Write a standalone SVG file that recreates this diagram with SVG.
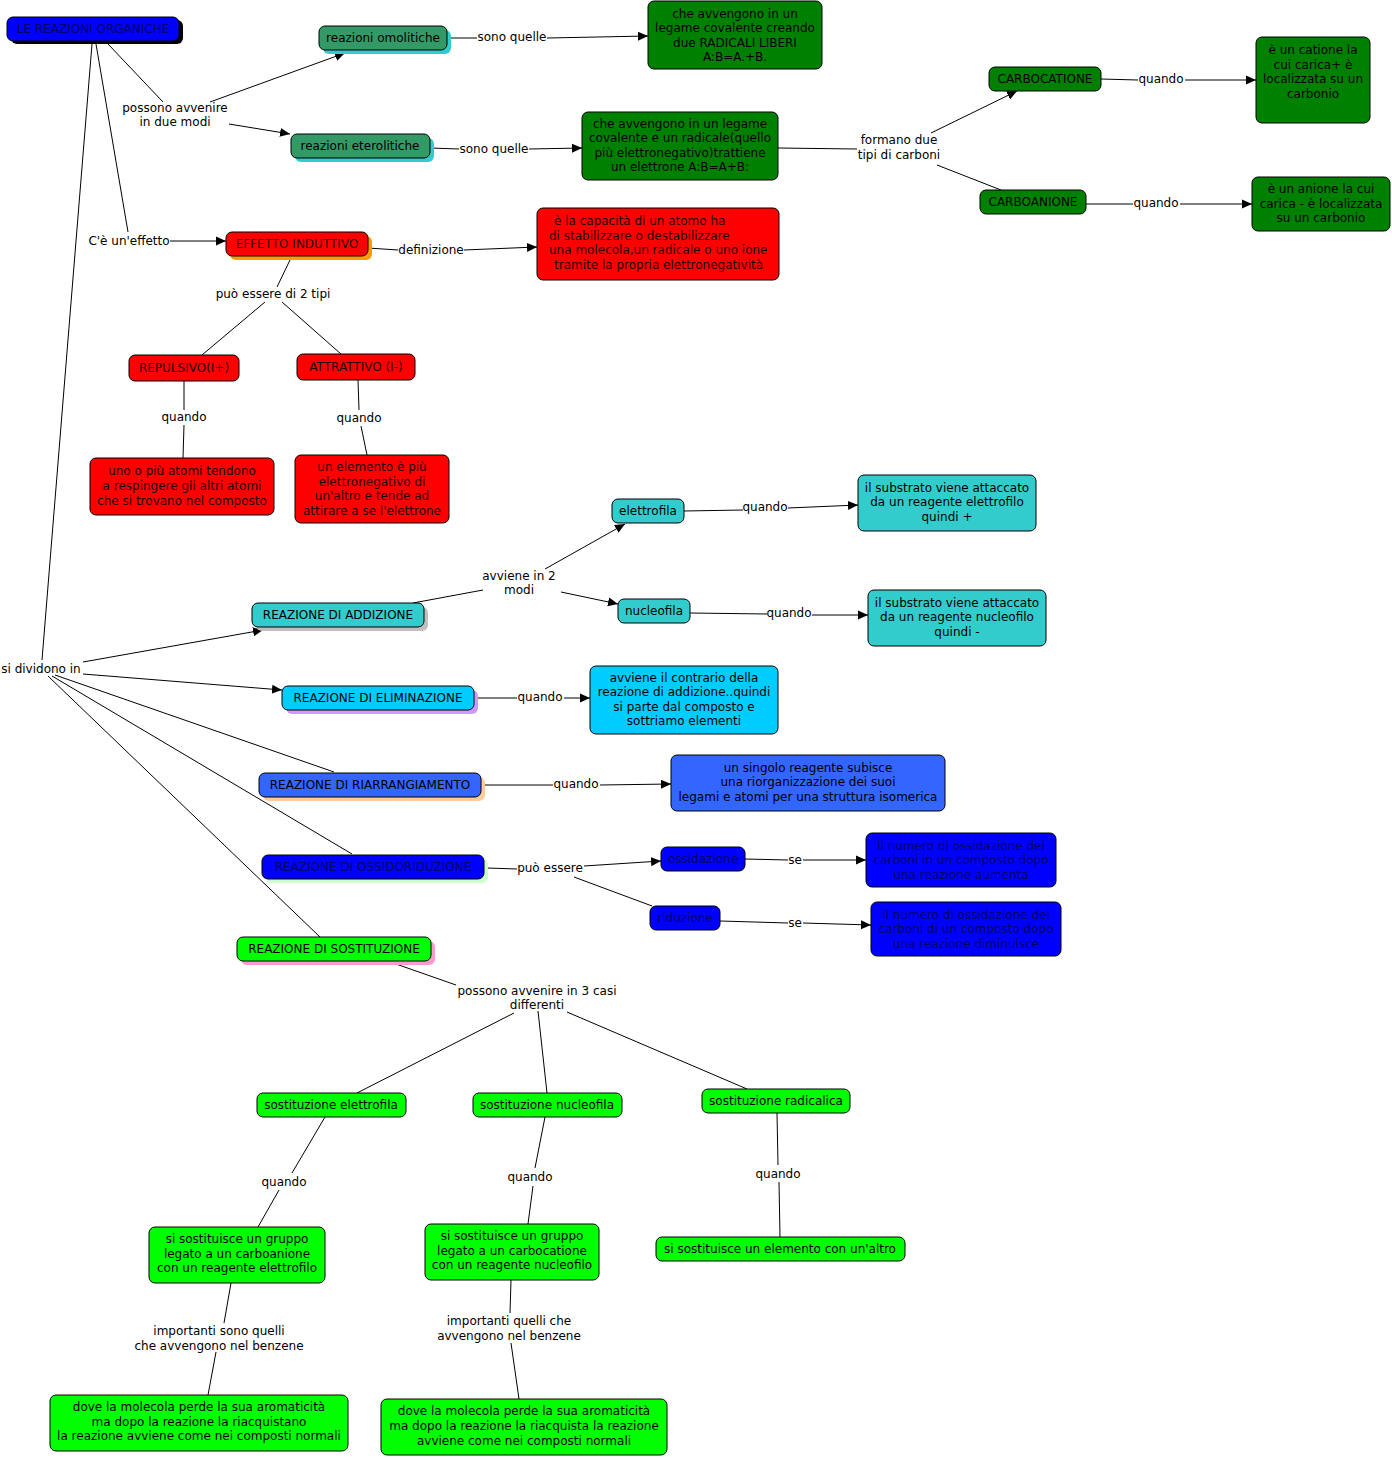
<svg xmlns="http://www.w3.org/2000/svg" width="1392" height="1458" viewBox="0 0 1392 1458">
<defs>
<marker id="ah" viewBox="0 0 10 10" refX="10" refY="5" markerWidth="10" markerHeight="10" markerUnits="userSpaceOnUse" orient="auto"><path d="M0,0.5 L10,5 L0,9.5 z" fill="#000"/></marker>
<style>
text{font-family:"DejaVu Sans","Verdana",sans-serif;font-size:12px;fill:#000;}
.c{text-anchor:middle;}
.n{stroke:#000;stroke-width:1;}
.sh{stroke:none;}
.e line,.e polyline{stroke:#000;stroke-width:1;fill:none;}
.a{marker-end:url(#ah);}
.dg{fill:#008000;}
.sg{fill:#339966;}
.rd{fill:#ff0000;}
.tq{fill:#33cccc;}
.sk{fill:#00ccff;}
.rb{fill:#3366ff;}
.bl{fill:#0000ff;}
.lg{fill:#00ff00;}
.tb{fill:#000066;}
.tr{fill:#220000;}
</style>
</defs>
<rect width="1392" height="1458" fill="#fff"/>

<g id="connectors" class="e">
<line x1="108" y1="44" x2="163" y2="102"/>
<line x1="210" y1="102" x2="345" y2="53" class="a"/>
<line x1="229" y1="124" x2="290" y2="134" class="a"/>
<line x1="96" y1="44" x2="128" y2="232"/>
<line x1="170" y1="241" x2="226" y2="241" class="a"/>
<line x1="92" y1="44" x2="42" y2="660"/>
<line x1="447" y1="38" x2="477" y2="38"/>
<line x1="547" y1="38" x2="648" y2="36" class="a"/>
<line x1="430" y1="148" x2="459" y2="149"/>
<line x1="529" y1="149" x2="582" y2="148" class="a"/>
<line x1="778" y1="148" x2="857" y2="149"/>
<line x1="931" y1="133" x2="1017" y2="91" class="a"/>
<line x1="937" y1="165" x2="1001" y2="190"/>
<line x1="1101" y1="79" x2="1138" y2="80"/>
<line x1="1185" y1="80" x2="1256" y2="80" class="a"/>
<line x1="1086" y1="204" x2="1133" y2="204"/>
<line x1="1180" y1="204" x2="1252" y2="204" class="a"/>
<line x1="368" y1="248" x2="398" y2="250"/>
<line x1="464" y1="250" x2="537" y2="247" class="a"/>
<line x1="290" y1="260" x2="277" y2="287"/>
<line x1="265" y1="302" x2="202" y2="355"/>
<line x1="282" y1="302" x2="341" y2="354"/>
<line x1="184" y1="381" x2="184" y2="410"/>
<line x1="184" y1="425" x2="183" y2="458"/>
<line x1="358" y1="380" x2="359" y2="410"/>
<line x1="361" y1="426" x2="367" y2="455"/>
<line x1="83" y1="662" x2="263" y2="630" class="a"/>
<line x1="83" y1="674" x2="282" y2="690" class="a"/>
<line x1="55" y1="675" x2="334" y2="772"/>
<line x1="52" y1="676" x2="352" y2="854"/>
<line x1="48" y1="676" x2="320" y2="937"/>
<line x1="413" y1="603" x2="483" y2="590"/>
<line x1="545" y1="569" x2="625" y2="524" class="a"/>
<line x1="561" y1="592" x2="618" y2="604" class="a"/>
<line x1="684" y1="511" x2="743" y2="510"/>
<line x1="788" y1="508" x2="858" y2="505" class="a"/>
<line x1="690" y1="613" x2="767" y2="614"/>
<line x1="812" y1="615" x2="868" y2="615" class="a"/>
<line x1="474" y1="698" x2="517" y2="698"/>
<line x1="564" y1="698" x2="590" y2="698" class="a"/>
<line x1="484" y1="785" x2="553" y2="785"/>
<line x1="600" y1="785" x2="671" y2="784" class="a"/>
<line x1="487" y1="868" x2="517" y2="869"/>
<line x1="584" y1="866" x2="661" y2="861" class="a"/>
<line x1="574" y1="877" x2="652" y2="906"/>
<line x1="745" y1="859" x2="788" y2="860"/>
<line x1="803" y1="860" x2="866" y2="860" class="a"/>
<line x1="720" y1="921" x2="788" y2="923"/>
<line x1="803" y1="923" x2="871" y2="925" class="a"/>
<line x1="396" y1="964" x2="456" y2="985"/>
<line x1="514" y1="1013" x2="357" y2="1093"/>
<line x1="538" y1="1011" x2="547" y2="1093"/>
<line x1="567" y1="1012" x2="747" y2="1089"/>
<line x1="325" y1="1117" x2="292" y2="1173"/>
<line x1="279" y1="1190" x2="258" y2="1227"/>
<line x1="545" y1="1117" x2="535" y2="1168"/>
<line x1="533" y1="1186" x2="528" y2="1224"/>
<line x1="777" y1="1113" x2="778" y2="1165"/>
<line x1="779" y1="1182" x2="780" y2="1237"/>
<line x1="231" y1="1283" x2="224" y2="1323"/>
<line x1="216" y1="1352" x2="208" y2="1395"/>
<line x1="511" y1="1280" x2="510" y2="1313"/>
<line x1="511" y1="1343" x2="519" y2="1399"/>
</g>

<g id="labels">
<text class="c" x="175" y="112">possono avvenire</text>
<text class="c" x="175" y="126">in due modi</text>
<text class="c" x="512" y="41">sono quelle</text>
<text class="c" x="494" y="153">sono quelle</text>
<text class="c" x="899" y="144">formano due</text>
<text class="c" x="899" y="159">tipi di carboni</text>
<text class="c" x="1161" y="83">quando</text>
<text class="c" x="1156" y="207">quando</text>
<text class="c" x="129" y="245">C'è un'effetto</text>
<text class="c" x="431" y="254">definizione</text>
<text class="c" x="273" y="298">può essere di 2 tipi</text>
<text class="c" x="184" y="421">quando</text>
<text class="c" x="359" y="422">quando</text>
<text class="c" x="519" y="580">avviene in 2</text>
<text class="c" x="519" y="594">modi</text>
<text class="c" x="765" y="511">quando</text>
<text class="c" x="789" y="617">quando</text>
<text class="c" x="41" y="673">si dividono in</text>
<text class="c" x="540" y="701">quando</text>
<text class="c" x="576" y="788">quando</text>
<text class="c" x="550" y="872">può essere</text>
<text class="c" x="795" y="864">se</text>
<text class="c" x="795" y="927">se</text>
<text class="c" x="537" y="995">possono avvenire in 3 casi</text>
<text class="c" x="537" y="1009">differenti</text>
<text class="c" x="284" y="1186">quando</text>
<text class="c" x="530" y="1181">quando</text>
<text class="c" x="778" y="1178">quando</text>
<text class="c" x="219" y="1335">importanti sono quelli</text>
<text class="c" x="219" y="1350">che avvengono nel benzene</text>
<text class="c" x="509" y="1325">importanti quelli che</text>
<text class="c" x="509" y="1340">avvengono nel benzene</text>
</g>

<g id="n-root">
<rect class="sh" x="11" y="20" width="172" height="24" rx="6" fill="#000"/>
<rect class="n bl" x="7" y="17" width="172" height="24" rx="6"/>
<text class="c tb" x="93" y="33">LE REAZIONI ORGANICHE</text>
</g>
<g id="n-omolitiche">
<rect class="sh" x="323" y="30" width="128" height="24" rx="6" fill="#33cccc"/>
<rect class="n sg" x="319" y="26" width="128" height="24" rx="6"/>
<text class="c" x="383" y="42">reazioni omolitiche</text>
</g>
<g id="n-eterolitiche">
<rect class="sh" x="295" y="138" width="139" height="24" rx="6" fill="#33cccc"/>
<rect class="n sg" x="291" y="134" width="139" height="24" rx="6"/>
<text class="c" x="360" y="150">reazioni eterolitiche</text>
</g>
<g id="n-omo-def">
<rect class="n dg" x="648" y="1" width="174" height="68" rx="6"/>
<text class="c" x="735" y="18">che avvengono in un</text>
<text class="c" x="735" y="32">legame covalente creando</text>
<text class="c" x="735" y="47">due RADICALI LIBERI</text>
<text class="c" x="735" y="61">A:B=A.+B.</text>
</g>
<g id="n-etero-def">
<rect class="n dg" x="582" y="112" width="196" height="68" rx="6"/>
<text class="c" x="680" y="128">che avvengono in un legame </text>
<text class="c" x="680" y="142">covalente e un radicale(quello</text>
<text class="c" x="680" y="157">più elettronegativo)trattiene </text>
<text class="c" x="680" y="171">un elettrone  A:B=A+B:</text>
</g>
<g id="n-carbocatione">
<rect class="n dg" x="989" y="67" width="112" height="24" rx="6"/>
<text class="c" x="1045" y="83">CARBOCATIONE</text>
</g>
<g id="n-carboanione">
<rect class="n dg" x="980" y="190" width="106" height="24" rx="6"/>
<text class="c" x="1033" y="206">CARBOANIONE</text>
</g>
<g id="n-catione-def">
<rect class="n dg" x="1256" y="37" width="114" height="86" rx="6"/>
<text class="c" x="1313" y="54">è un catione la</text>
<text class="c" x="1313" y="69">cui carica+ è</text>
<text class="c" x="1313" y="83">localizzata su un</text>
<text class="c" x="1313" y="98">carbonio</text>
</g>
<g id="n-anione-def">
<rect class="n dg" x="1252" y="177" width="138" height="54" rx="6"/>
<text class="c" x="1321" y="193">è un anione la cui</text>
<text class="c" x="1321" y="208">carica - è localizzata</text>
<text class="c" x="1321" y="222">su un carbonio</text>
</g>
<g id="n-effetto">
<rect class="sh" x="230" y="236" width="142" height="24" rx="6" fill="#ff9900"/>
<rect class="n rd" x="226" y="232" width="142" height="24" rx="6"/>
<text class="c tr" x="297" y="248">EFFETTO INDUTTIVO</text>
</g>
<g id="n-effetto-def">
<rect class="n rd" x="537" y="208" width="242" height="72" rx="6"/>
<text class="tr" x="554" y="225">è la capacità di un atomo ha</text>
<text class="tr" x="549" y="240">di stabilizzare o destabilizzare</text>
<text class="tr" x="549" y="254">una molecola,un radicale o uno ione</text>
<text class="tr" x="554" y="269">tramite la propria elettronegatività</text>
</g>
<g id="n-repulsivo">
<rect class="n rd" x="129" y="355" width="110" height="26" rx="6"/>
<text class="c tr" x="184" y="372">REPULSIVO(I+)</text>
</g>
<g id="n-attrattivo">
<rect class="n rd" x="297" y="354" width="118" height="26" rx="6"/>
<text class="c tr" x="356" y="371">ATTRATTIVO (I-)</text>
</g>
<g id="n-repulsivo-def">
<rect class="n rd" x="90" y="458" width="184" height="57" rx="6"/>
<text class="c tr" x="182" y="475">uno o più atomi tendono</text>
<text class="c tr" x="182" y="490">a respingere gli altri atomi</text>
<text class="c tr" x="182" y="505">che si trovano nel composto</text>
</g>
<g id="n-attrattivo-def">
<rect class="n rd" x="295" y="455" width="154" height="68" rx="6"/>
<text class="c tr" x="372" y="471">un elemento è più</text>
<text class="c tr" x="372" y="486">elettronegativo di</text>
<text class="c tr" x="372" y="500">un'altro e tende ad</text>
<text class="c tr" x="372" y="515">attirare a se l'elettrone</text>
</g>
<g id="n-addizione">
<rect class="sh" x="256" y="607" width="172" height="24" rx="6" fill="#c0c0c0"/>
<rect class="n tq" x="252" y="603" width="172" height="24" rx="6"/>
<text class="c" x="338" y="619">REAZIONE DI ADDIZIONE</text>
</g>
<g id="n-elettrofila">
<rect class="n tq" x="612" y="499" width="72" height="24" rx="6"/>
<text class="c" x="648" y="515">elettrofila</text>
</g>
<g id="n-nucleofila">
<rect class="n tq" x="618" y="599" width="72" height="24" rx="6"/>
<text class="c" x="654" y="615">nucleofila</text>
</g>
<g id="n-elettrofila-def">
<rect class="n tq" x="858" y="475" width="178" height="56" rx="6"/>
<text class="c" x="947" y="492">il substrato viene attaccato</text>
<text class="c" x="947" y="506">da un reagente elettrofilo</text>
<text class="c" x="947" y="521">quindi +</text>
</g>
<g id="n-nucleofila-def">
<rect class="n tq" x="868" y="590" width="178" height="56" rx="6"/>
<text class="c" x="957" y="607">il substrato viene attaccato</text>
<text class="c" x="957" y="621">da un reagente nucleofilo</text>
<text class="c" x="957" y="636">quindi -</text>
</g>
<g id="n-eliminazione">
<rect class="sh" x="286" y="690" width="192" height="24" rx="6" fill="#cc99ff"/>
<rect class="n sk" x="282" y="686" width="192" height="24" rx="6"/>
<text class="c" x="378" y="702">REAZIONE DI ELIMINAZIONE</text>
</g>
<g id="n-eliminazione-def">
<rect class="n sk" x="590" y="666" width="188" height="68" rx="6"/>
<text class="c" x="684" y="682">avviene il contrario della</text>
<text class="c" x="684" y="696">reazione di addizione..quindi</text>
<text class="c" x="684" y="711">si parte dal composto e</text>
<text class="c" x="684" y="725">sottriamo elementi</text>
</g>
<g id="n-riarrangiamento">
<rect class="sh" x="263" y="777" width="222" height="24" rx="6" fill="#ffcc99"/>
<rect class="n rb" x="259" y="773" width="222" height="24" rx="6"/>
<text class="c" x="370" y="789">REAZIONE DI RIARRANGIAMENTO</text>
</g>
<g id="n-riarrangiamento-def">
<rect class="n rb" x="671" y="755" width="274" height="56" rx="6"/>
<text class="c" x="808" y="772">un singolo reagente subisce</text>
<text class="c" x="808" y="786">una riorganizzazione dei suoi</text>
<text class="c" x="808" y="801">legami e atomi per una struttura isomerica</text>
</g>
<g id="n-ossidoriduzione">
<rect class="sh" x="266" y="859" width="222" height="24" rx="6" fill="#ccffcc"/>
<rect class="n bl" x="262" y="855" width="222" height="24" rx="6"/>
<text class="c tb" x="373" y="871">REAZIONE DI OSSIDORIDUZIONE</text>
</g>
<g id="n-ossidazione">
<rect class="n bl" x="661" y="847" width="84" height="24" rx="6"/>
<text class="c tb" x="703" y="863">ossidazione</text>
</g>
<g id="n-riduzione">
<rect class="n bl" x="650" y="906" width="70" height="24" rx="6"/>
<text class="c tb" x="685" y="922">riduzione</text>
</g>
<g id="n-ossidazione-def">
<rect class="n bl" x="866" y="833" width="190" height="54" rx="6"/>
<text class="c tb" x="961" y="850">il numero di ossidazione dei</text>
<text class="c tb" x="961" y="864">carboni in un composto dopo</text>
<text class="c tb" x="961" y="879">una reazione aumenta</text>
</g>
<g id="n-riduzione-def">
<rect class="n bl" x="871" y="902" width="190" height="54" rx="6"/>
<text class="c tb" x="966" y="919">il numero di ossidazione dei</text>
<text class="c tb" x="966" y="933">carboni di un composto dopo</text>
<text class="c tb" x="966" y="948">una reazione diminuisce</text>
</g>
<g id="n-sostituzione">
<rect class="sh" x="241" y="941" width="194" height="24" rx="6" fill="#ff99cc"/>
<rect class="n lg" x="237" y="937" width="194" height="24" rx="6"/>
<text class="c" x="334" y="953">REAZIONE DI SOSTITUZIONE</text>
</g>
<g id="n-sost-elettrofila">
<rect class="n lg" x="257" y="1093" width="149" height="24" rx="6"/>
<text class="c" x="331" y="1109">sostituzione elettrofila</text>
</g>
<g id="n-sost-nucleofila">
<rect class="n lg" x="473" y="1093" width="149" height="24" rx="6"/>
<text class="c" x="547" y="1109">sostituzione nucleofila</text>
</g>
<g id="n-sost-radicalica">
<rect class="n lg" x="702" y="1089" width="148" height="24" rx="6"/>
<text class="c" x="776" y="1105">sostituzione radicalica</text>
</g>
<g id="n-sost-elettrofila-def">
<rect class="n lg" x="149" y="1227" width="176" height="56" rx="6"/>
<text class="c" x="237" y="1243">si sostituisce un gruppo</text>
<text class="c" x="237" y="1258">legato a un carboanione</text>
<text class="c" x="237" y="1272">con un reagente elettrofilo</text>
</g>
<g id="n-sost-nucleofila-def">
<rect class="n lg" x="425" y="1224" width="174" height="56" rx="6"/>
<text class="c" x="512" y="1240">si sostituisce un gruppo</text>
<text class="c" x="512" y="1255">legato a un carbocatione</text>
<text class="c" x="512" y="1269">con un reagente nucleofilo</text>
</g>
<g id="n-sost-radicalica-def">
<rect class="n lg" x="656" y="1237" width="249" height="24" rx="6"/>
<text class="c" x="780" y="1253">si sostituisce un elemento con un'altro</text>
</g>
<g id="n-benzene-elettrofila">
<rect class="n lg" x="50" y="1395" width="298" height="56" rx="6"/>
<text class="c" x="199" y="1411">dove la molecola perde la sua aromaticità</text>
<text class="c" x="199" y="1426">ma dopo la reazione la riacquistano</text>
<text class="c" x="199" y="1440">la reazione avviene come nei composti normali</text>
</g>
<g id="n-benzene-nucleofila">
<rect class="n lg" x="381" y="1399" width="286" height="56" rx="6"/>
<text class="c" x="524" y="1415">dove la molecola perde la sua aromaticità</text>
<text class="c" x="524" y="1430">ma dopo la reazione la riacquista la reazione</text>
<text class="c" x="524" y="1445">avviene come nei composti normali</text>
</g>
</svg>
